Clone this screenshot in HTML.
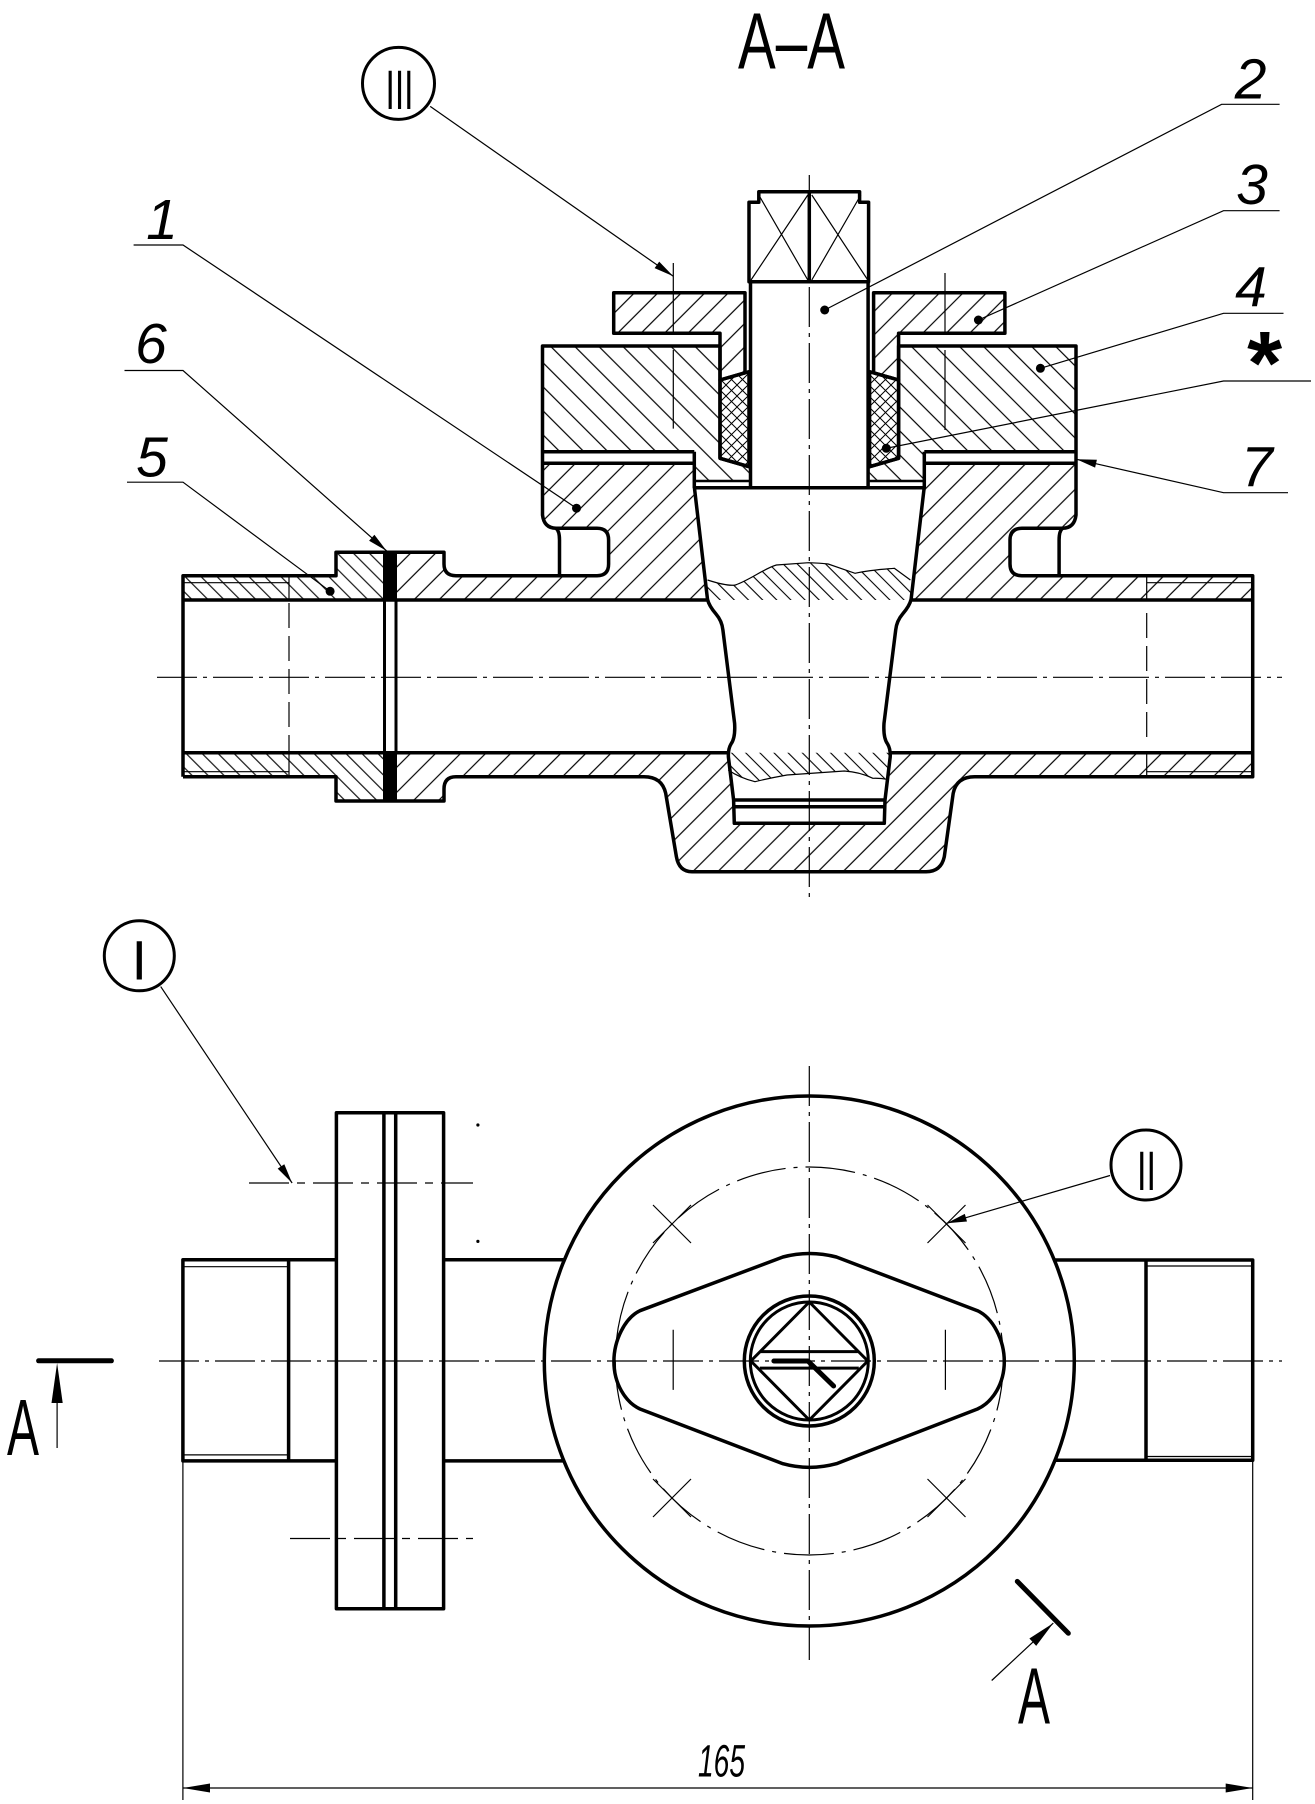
<!DOCTYPE html>
<html><head><meta charset="utf-8"><style>
html,body{margin:0;padding:0;background:#fff;}
svg{display:block;}
text{font-family:"Liberation Sans",sans-serif;fill:#000;}
</style></head><body>
<svg width="1315" height="1804" viewBox="0 0 1315 1804" xmlns="http://www.w3.org/2000/svg">
<defs>
<pattern id="hBody" patternUnits="userSpaceOnUse" width="17.7" height="17.7" patternTransform="rotate(45)"><line x1="8.85" y1="-1" x2="8.85" y2="19" stroke="#000" stroke-width="1.2"/></pattern>
<pattern id="hP4" patternUnits="userSpaceOnUse" width="17" height="17" patternTransform="rotate(-45)"><line x1="8.5" y1="-1" x2="8.5" y2="18" stroke="#000" stroke-width="1.2"/></pattern>
<pattern id="hNut" patternUnits="userSpaceOnUse" width="16.6" height="16.6" patternTransform="rotate(45)"><line x1="8.3" y1="-1" x2="8.3" y2="18" stroke="#000" stroke-width="1.2"/></pattern>
<pattern id="hP5" patternUnits="userSpaceOnUse" width="11.3" height="11.3" patternTransform="rotate(-45)"><line x1="5.6" y1="-1" x2="5.6" y2="13" stroke="#000" stroke-width="1.1"/></pattern>
<pattern id="hPlug" patternUnits="userSpaceOnUse" width="10" height="10" patternTransform="rotate(-45)"><line x1="5" y1="-1" x2="5" y2="11" stroke="#000" stroke-width="1.1"/></pattern>
<pattern id="hPack" patternUnits="userSpaceOnUse" width="11" height="11"><path d="M0,0 L11,11 M0,11 L11,0" stroke="#000" stroke-width="1" fill="none"/></pattern>
</defs>
<rect width="1315" height="1804" fill="#fff"/>

<!-- ============ SECTION A-A ============ -->
<text x="791.5" y="68.3" font-size="80" text-anchor="middle" textLength="107" lengthAdjust="spacingAndGlyphs">A–A</text>

<!-- hatch fills -->
<path fill="url(#hBody)" d="M397,552.3 L444,552.3 L444,564 Q444,575.7 456,575.7 L597,575.7 Q608.6,575.7 608.6,564 L608.6,540 Q608.6,528.3 597,528.3 L556,528.3 Q544,528 542.5,515 L542.5,463.3 L694.3,463.3 L694.3,486.7 L707.5,599.3 L707.5,600 L397,600 Z"/>
<path fill="url(#hBody)" d="M924.3,463.3 L1076,463.3 L1076,515 Q1074.5,528 1062.6,528.3 L1022,528.3 Q1010,528.3 1010,540 L1010,564 Q1010,575.7 1021.8,575.7 L1252.7,575.7 L1252.7,600 L911.1,600 L924.3,486.7 Z"/>
<path fill="url(#hBody)" d="M397,752.7 L728.5,752.7 L733.6,800 L734.3,823.3 L884.3,823.3 L885,800 L890.2,752.7 L1252.7,752.7 L1252.7,776.7 L974.6,776.7 Q956.5,776.7 953.2,793.3 L944.3,856.7 Q941,871.7 926,871.7 L692,871.7 Q679,871.7 676.4,856.7 L665.7,793.3 Q662,776.7 644,776.7 L456,776.7 Q444,776.7 444,789 L444,801 L397,801 Z"/>
<path fill="url(#hP5)" d="M183,575.7 L336,575.7 L336,552.3 L383,552.3 L383,600 L183,600 Z M183,752.7 L383,752.7 L383,801 L336,801 L336,776.7 L183,776.7 Z"/>
<rect x="383" y="552.3" width="14" height="47.7" fill="#000"/>
<rect x="383" y="752.7" width="14" height="48.3" fill="#000"/>
<path fill="url(#hP4)" d="M542.5,346 L720,346 L720,458.3 L749,466.7 L749,481 L694.3,481 L694.3,451.7 L542.5,451.7 Z M1076,346 L898.6,346 L898.6,458.3 L869.6,466.7 L869.6,481 L924.3,481 L924.3,451.7 L1076,451.7 Z"/>
<path fill="url(#hNut)" d="M613.7,292.7 L745,292.7 L745,372.8 L720,380 L720,333.3 L613.7,333.3 Z M1004.9,292.7 L873.6,292.7 L873.6,372.8 L898.6,380 L898.6,333.3 L1004.9,333.3 Z"/>
<path fill="url(#hPack)" d="M720,380 L749,371.7 L749,466.7 L720,458.3 Z M898.6,380 L869.6,371.7 L869.6,466.7 L898.6,458.3 Z"/>
<path fill="url(#hPlug)" d="M707.5,580 C720,584 730,586 735.4,585 C750,580 765,568 776.4,565 L808.6,562.7 Q820,563 828.2,564 L855,573.3 Q870,570 894.3,568.3 L910.4,580 L911.1,600 L707.5,600 Z"/>
<path fill="url(#hPlug)" d="M728.5,752.7 L890.2,752.7 L887,779.3 Q880,778 872.9,778.3 Q860,772 844.3,771 L787,775 Q770,778 755,781.7 Q740,778 728.2,770 Z"/>

<!-- thin lines section -->
<g stroke="#000" stroke-width="1.2" fill="none">
<path d="M707.5,580 C720,584 730,586 735.4,585 C750,580 765,568 776.4,565 L808.6,562.7 Q820,563 828.2,564 L855,573.3 Q870,570 894.3,568.3 L910.4,580"/>
<path d="M728.2,770 Q740,778 755,781.7 Q770,778 787,775 L844.3,771 Q860,772 872.9,778.3 Q880,778 887,779.3"/>
<path d="M183,582.7 L289,582.7 M183,771.7 L289,771.7 M289,575.7 L289,600 M289,752.7 L289,776.7"/>
<path d="M1146.7,582.7 L1252.7,582.7 M1146.7,771.7 L1252.7,771.7 M1146.7,575.7 L1146.7,600 M1146.7,752.7 L1146.7,776.7"/>
<path d="M289,603 L289,752" stroke-dasharray="25 8"/>
<path d="M1146.7,613 L1146.7,742" stroke-dasharray="25 8"/>
<!-- stem crosses -->
<path d="M751,280 L807.8,195 M758.8,195 L807.8,280 M811.8,195 L867.8,280 M860.8,195 L811.8,280"/>
<!-- center lines -->
<path d="M157,677.3 L1282,677.3" stroke-dasharray="40 6 4 6"/>
<path d="M809.3,175 L809.3,900" stroke-dasharray="40 6 4 6"/>
<path d="M673.3,263 L673.3,335 M673.3,350 L673.3,428.6"/>
<path d="M945,273 L945,335 M945,350 L945,430"/>
<!-- leaders -->
<path d="M133.6,245 L183,245 L576.5,508.2"/>
<path d="M124.5,370.5 L183,370.5 L386.7,551"/>
<path d="M127,482.2 L183,482.2 L330.1,591.3"/>
<path d="M1279.6,104.3 L1221.6,104.3 L824.7,310"/>
<path d="M1279.6,210.7 L1223.5,210.7 L978.4,320"/>
<path d="M1283.5,313.3 L1223.5,313.3 L1040.4,368.3"/>
<path d="M1311,381 L1223.5,381 L886.3,448.3"/>
<path d="M1288,492.7 L1223.5,492.7 L1076.5,459.3"/>
<path d="M430.2,106.4 L673.3,276.3"/>
</g>
<g fill="#000">
<circle cx="576.5" cy="508.2" r="4.5"/>
<circle cx="330.1" cy="591.3" r="4.5"/>
<circle cx="824.7" cy="310" r="4.5"/>
<circle cx="978.4" cy="320" r="4.5"/>
<circle cx="1040.4" cy="368.3" r="4.5"/>
<circle cx="886.3" cy="448.3" r="4.5"/>
<polygon points="673.3,276.3 654.6,268.1 659.2,261.6"/>
<polygon points="386.7,551 369.1,540.7 374.4,534.7"/>
<polygon points="1076.5,459.3 1096.9,459.8 1095.1,467.6"/>
</g>

<!-- thick outlines section -->
<g stroke="#000" stroke-width="3.5" fill="none" stroke-linejoin="round">
<path d="M183,776.7 L183,575.7 L336,575.7 L336,552.3 L444,552.3 L444,564 Q444,575.7 456,575.7 L597,575.7 Q608.6,575.7 608.6,564 L608.6,540 Q608.6,528.3 597,528.3 L556,528.3 Q544,528 542.5,515 L542.5,346 L720,346 L720,458.3 L749,466.7"/>
<path d="M556,528.3 Q559.5,531 559.5,540 L559.5,575.7"/>
<path d="M183,776.7 L336,776.7 L336,801 L444,801 L444,789 Q444,776.7 456,776.7 L644,776.7 Q662,776.7 665.7,793.3 L676.4,856.7 Q679,871.7 692,871.7 L926,871.7 Q941,871.7 944.3,856.7 L953.2,793.3 Q956.5,776.7 974.6,776.7 L1252.7,776.7 L1252.7,575.7 L1021.8,575.7 Q1010,575.7 1010,564 L1010,540 Q1010,528.3 1022,528.3 L1062.6,528.3 Q1074.5,528 1076,515 L1076,346 L898.6,346 L898.6,458.3 L869.6,466.7"/>
<path d="M1062.6,528.3 Q1059.1,531 1059.1,540 L1059.1,575.7"/>
<path d="M183,600 L707.5,600 M911.1,600 L1252.7,600 M183,752.7 L728.5,752.7 M890.2,752.7 L1252.7,752.7"/>
<path d="M384.5,600 L384.5,752.7 M396,600 L396,752.7" stroke-width="3"/>
<path d="M542.5,451.7 L694.3,451.7 M542.5,463.3 L694.3,463.3 M924.3,451.7 L1076,451.7 M924.3,463.3 L1076,463.3"/>
<path d="M694.3,451.7 L694.3,487.7 M924.3,451.7 L924.3,487.7"/>
<path d="M694.3,481 L749,481 M869.6,481 L924.3,481" stroke-width="2.5"/>
<path d="M694.3,487.7 L924.3,487.7"/>
<path d="M694.3,486.7 L707.5,599.3 Q709,606 716,614 Q722,621 722.9,630 L734.6,723.3 Q735.5,738 731,744 Q728,749 728.4,757 L733.6,800 L734.3,823.3 L884.3,823.3 L885,800 L890.2,757 Q890.6,749 887.6,744 Q883.1,738 884,723.3 L895.7,630 Q896.6,621 902.6,614 Q909.6,606 911.1,599.3 L924.3,486.7"/>
<path d="M733.6,800 L885,800 M734,806.7 L884.7,806.7"/>
<path d="M750.5,281.7 L750.5,487.7 M868.1,281.7 L868.1,487.7"/>
<path d="M749,281.7 L749,202.3 L758.8,202.3 L758.8,191.7 L859.6,191.7 L859.6,202.3 L868.6,202.3 L868.6,281.7 Z"/>
<path d="M809.3,191.7 L809.3,281.7"/>
<path d="M613.7,292.7 L745,292.7 L745,372.8 L720,380 L720,333.3 L613.7,333.3 Z"/>
<path d="M1004.9,292.7 L873.6,292.7 L873.6,372.8 L898.6,380 L898.6,333.3 L1004.9,333.3 Z"/>
<path d="M720,380 L749,371.7 L749,466.7 L720,458.3 Z"/>
<path d="M898.6,380 L869.6,371.7 L869.6,466.7 L898.6,458.3 Z"/>
</g>

<!-- labels section -->
<circle cx="398.5" cy="83.4" r="36" fill="none" stroke="#000" stroke-width="3"/>
<text x="399.5" y="109" font-size="56" text-anchor="middle" textLength="28" lengthAdjust="spacingAndGlyphs">III</text>
<g font-size="57" font-style="italic" text-anchor="middle">
<text x="162" y="239">1</text>
<text x="151" y="363">6</text>
<text x="152" y="476.5">5</text>
<text x="1250.6" y="98.3">2</text>
<text x="1252" y="204">3</text>
<text x="1251" y="306.7">4</text>
<text x="1257" y="486.7">7</text>
</g>
<text x="1264.7" y="394" font-size="90" font-weight="bold" text-anchor="middle">*</text>

<!-- ============ PLAN VIEW ============ -->
<g stroke="#000" stroke-width="1.2" fill="none">
<path d="M159,1361 L1282,1361" stroke-dasharray="40 6 4 6"/>
<path d="M809.3,1066 L809.3,1660" stroke-dasharray="40 6 4 6"/>
<circle cx="809.3" cy="1361" r="194" stroke-dasharray="50 8 4 8"/>
<path d="M249,1183 L473,1183" stroke-dasharray="40 8 8 8"/>
<path d="M290,1538.5 L473,1538.5" stroke-dasharray="40 8 8 8"/>
<path d="M182.9,1266.7 L288.6,1266.7 M182.9,1454.9 L288.6,1454.9"/>
<path d="M1146,1266 L1252.7,1266 M1146,1456.5 L1252.7,1456.5"/>
<!-- crosses -->
<path d="M653,1205 L691,1243 M691,1205 L653,1243"/>
<path d="M927.5,1205 L965.5,1243 M965.5,1205 L927.5,1243"/>
<path d="M653,1479 L691,1517 M691,1479 L653,1517"/>
<path d="M927.5,1479 L965.5,1517 M965.5,1479 L927.5,1517"/>
<path d="M673.2,1329.8 L673.2,1389.9 M945.4,1329.8 L945.4,1389.9"/>
<!-- leaders -->
<path d="M160.7,986.6 L292.1,1183"/>
<path d="M1110,1175.5 L946.7,1223.3"/>
<path d="M991.7,1680.5 L1053.3,1623.1"/>
<path d="M57.1,1448 L57.1,1380"/>
<!-- dimension -->
<path d="M182.9,1461 L182.9,1800 M1252.7,1460 L1252.7,1800"/>
<path d="M183,1788 L1252.7,1788"/>
</g>
<g fill="#000">
<circle cx="477.9" cy="1125" r="1.6"/>
<circle cx="477.9" cy="1241.4" r="1.6"/>
<polygon points="292.1,1183 277.7,1168.6 284.3,1164.2"/>
<polygon points="946.7,1223.3 964.8,1213.9 967,1221.5"/>
<polygon points="1053.3,1623.1 1036.2,1645.9 1029.4,1638.5"/>
<polygon points="57.1,1363 51.5,1403 62.7,1403"/>
<polygon points="183,1788 210,1783.5 210,1792.5"/>
<polygon points="1252.7,1788 1225.7,1783.5 1225.7,1792.5"/>
</g>
<g stroke="#000" stroke-width="3.5" fill="none" stroke-linejoin="round">
<path d="M336.4,1259.8 L182.9,1259.8 L182.9,1460.9 L336.4,1460.9"/>
<path d="M288.6,1259.8 L288.6,1460.9"/>
<rect x="336.4" y="1112.8" width="107.2" height="495.9"/>
<path d="M383.9,1112.8 L383.9,1608.7 M395.7,1112.8 L395.7,1608.7"/>
<path d="M443.6,1259.8 L564.3,1259.8 M443.6,1460.9 L564.3,1460.9"/>
<path d="M1054.3,1260 L1252.7,1260 L1252.7,1460.2 L1054.3,1460.2"/>
<path d="M1146,1260 L1146,1460.2"/>
<circle cx="809.3" cy="1361" r="265"/>
<path d="M613.9,1361.6 C613.9,1340 625,1318 640,1310.7 L782.9,1257 Q809.3,1250 836.4,1257 L977.5,1310.7 C993,1318 1004.3,1340 1004.3,1361.6 C1004.3,1383 993,1402 977.5,1409 L836.4,1463.7 Q809.3,1471 782.9,1463.7 L640,1409 C625,1402 613.9,1383 613.9,1361.6 Z"/>
<circle cx="809.3" cy="1361" r="65"/>
<circle cx="809.3" cy="1361" r="59" stroke-width="3"/>
<path d="M809.3,1302 L867.8,1361 L809.3,1420 L750.8,1361 Z" stroke-width="3"/>
<path d="M760.8,1351.6 L857.8,1351.6 M759.8,1368.1 L858.8,1368.1" stroke-width="3"/>
<path d="M773.9,1361 L807.9,1361 L833.6,1386" stroke-width="5" stroke-linecap="round"/>
<path d="M38.6,1360.8 L111.4,1360.8" stroke-width="5" stroke-linecap="round"/>
<path d="M1017.3,1581.4 L1068.3,1633.3" stroke-width="5" stroke-linecap="round"/>
</g>
<circle cx="139.3" cy="955.8" r="35" fill="none" stroke="#000" stroke-width="3"/>
<text x="139.3" y="979.7" font-size="56" text-anchor="middle">I</text>
<circle cx="1146" cy="1165" r="35" fill="none" stroke="#000" stroke-width="3"/>
<text x="1146.5" y="1190" font-size="56" text-anchor="middle" textLength="19" lengthAdjust="spacingAndGlyphs">II</text>
<text x="7" y="1455" font-size="80" textLength="32" lengthAdjust="spacingAndGlyphs">A</text>
<text x="1018" y="1723.7" font-size="80" textLength="32" lengthAdjust="spacingAndGlyphs">A</text>
<text x="698" y="1776.5" font-size="45" font-style="italic" textLength="47" lengthAdjust="spacingAndGlyphs">165</text>
</svg>
</body></html>
